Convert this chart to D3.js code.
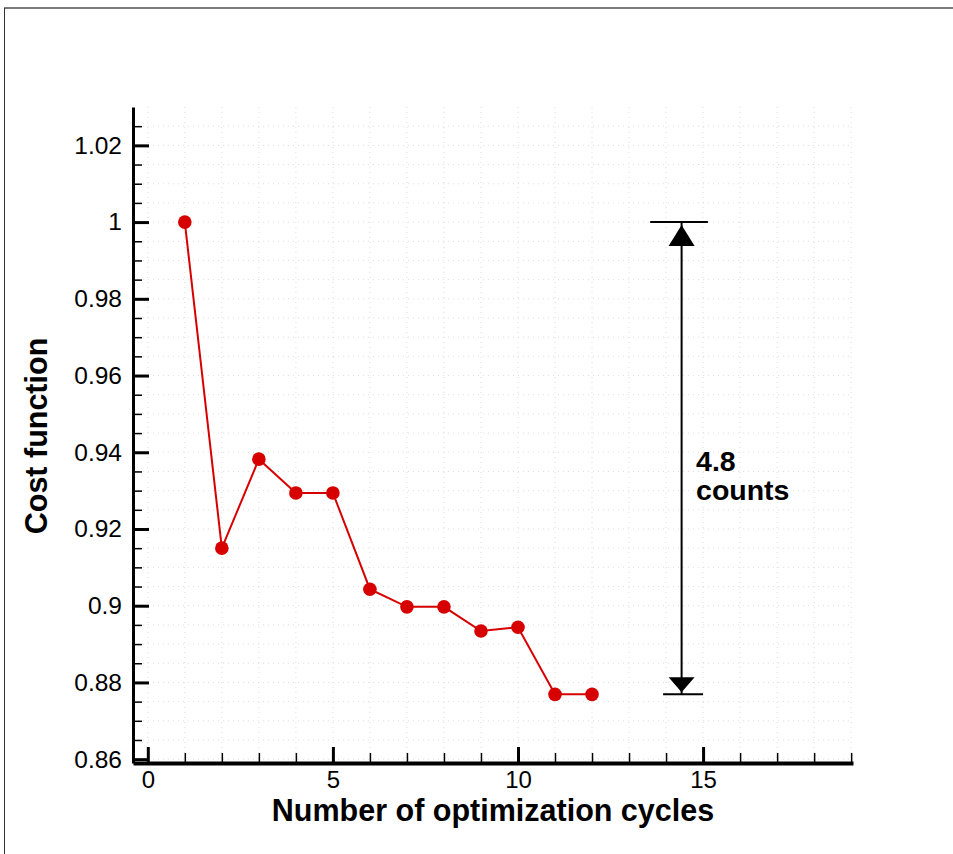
<!DOCTYPE html>
<html>
<head>
<meta charset="utf-8">
<script src="https://cdn.jsdelivr.net/npm/d3@7"></script>
<style>
  body { margin: 0; background: #fff; }
  svg { display: block; font-family: "Liberation Sans", Arial, sans-serif; }
  .grid line { stroke: #dedede; stroke-width: 1; stroke-dasharray: 1,4; }
</style>
</head>
<body>
<svg width="953" height="854"></svg>
<script>
// data
var cycles = [1, 2, 3, 4, 5, 6, 7, 8, 9, 10, 11, 12];
var cost = [1.0, 0.915, 0.9382, 0.9294, 0.9294, 0.9043, 0.8997, 0.8997, 0.8934, 0.8944, 0.8769, 0.8769];
var xMajor = [0, 5, 10, 15];
var yMajor = [0.86, 0.88, 0.9, 0.92, 0.94, 0.96, 0.98, 1, 1.02];
var yLabels = ["0.86", "0.88", "0.9", "0.92", "0.94", "0.96", "0.98", "1", "1.02"];
var xMinor = d3.range(0, 20, 1);
var yMinor = d3.range(0, 34).map(function(i) { return +(0.86 + i * 0.005).toFixed(3); });

// annotation
var arrowX = 14.42;
var arrowTop = cost[0], arrowBottom = cost[cost.length - 1];
var noteLines = ["4.8", "counts"];

var margin = { top: 107, left: 133, right: 100, bottom: 91 },
    width = 953 - margin.left - margin.right,
    height = 854 - margin.top - margin.bottom;

var svg = d3.select("svg");

// frame
svg.append("line").attr("x1", 4).attr("x2", 953).attr("y1", 8).attr("y2", 8)
  .attr("stroke", "#7a7a7a").attr("stroke-width", 2);
svg.append("line").attr("x1", 4.5).attr("x2", 4.5).attr("y1", 8).attr("y2", 854)
  .attr("stroke", "#333").attr("stroke-width", 1);

var g = svg.append("g")
  .attr("transform", "translate(" + margin.left + "," + margin.top + ")");

var x = d3.scaleLinear().domain([-0.4, 19.05]).range([0, width]);
var y = d3.scaleLinear().domain([0.859, 1.03]).range([height, 0]);

// dotted grid
g.append("g").attr("class", "grid")
  .selectAll("line").data(xMinor).enter().append("line")
  .attr("x1", function(d) { return x(d); }).attr("x2", function(d) { return x(d); })
  .attr("y1", 0).attr("y2", height);
g.append("g").attr("class", "grid")
  .selectAll("line").data(yMinor).enter().append("line")
  .attr("y1", function(d) { return y(d); }).attr("y2", function(d) { return y(d); })
  .attr("x1", 0).attr("x2", width);

// minor ticks
g.append("g")
  .attr("transform", "translate(0," + height + ")")
  .call(d3.axisBottom(x).tickValues(xMinor.filter(function(d) { return d % 5 !== 0; }))
    .tickSize(-10).tickFormat(""))
  .call(function(a) {
    a.select(".domain").remove();
    a.selectAll("line").attr("stroke", "#000").attr("stroke-width", 1.5);
  });
g.append("g")
  .call(d3.axisLeft(y).tickValues(yMinor.filter(function(d) { return yMajor.indexOf(d) < 0; }))
    .tickSize(-9).tickFormat(""))
  .call(function(a) {
    a.select(".domain").remove();
    a.selectAll("line").attr("stroke", "#000").attr("stroke-width", 1.5);
  });

// major axes
g.append("g")
  .attr("transform", "translate(0," + height + ")")
  .call(d3.axisBottom(x).tickValues(xMajor).tickSizeInner(-16).tickSizeOuter(0)
    .tickPadding(8).tickFormat(d3.format("d")))
  .call(function(a) {
    a.select(".domain").attr("stroke", "#000").attr("stroke-width", 4);
    a.selectAll("line").attr("stroke", "#000").attr("stroke-width", 3);
    a.selectAll("text").attr("font-size", 24).attr("fill", "#000")
      .attr("font-family", "Liberation Sans, Arial, sans-serif");
  });
g.append("g")
  .call(d3.axisLeft(y).tickValues(yMajor).tickSizeInner(-16).tickSizeOuter(0)
    .tickPadding(11).tickFormat(function(d, i) { return yLabels[i]; }))
  .call(function(a) {
    a.select(".domain").attr("stroke", "#000").attr("stroke-width", 3);
    a.selectAll("line").attr("stroke", "#000").attr("stroke-width", 3);
    a.selectAll("text").attr("font-size", 24.5).attr("fill", "#000")
      .attr("font-family", "Liberation Sans, Arial, sans-serif");
  });

// axis titles
svg.append("text")
  .attr("x", 493).attr("y", 821)
  .attr("text-anchor", "middle")
  .attr("font-size", 30.5).attr("font-weight", "bold")
  .text("Number of optimization cycles");
svg.append("text")
  .attr("transform", "translate(47,436) rotate(-90)")
  .attr("text-anchor", "middle")
  .attr("font-size", 30.5).attr("font-weight", "bold")
  .text("Cost function");

// series
var line = d3.line()
  .x(function(d, i) { return x(cycles[i]); })
  .y(function(d) { return y(d); });
g.append("path").datum(cost)
  .attr("d", line)
  .attr("fill", "none")
  .attr("stroke", "#d70000")
  .attr("stroke-width", 2);
g.selectAll("circle").data(cost).enter().append("circle")
  .attr("cx", function(d, i) { return x(cycles[i]); })
  .attr("cy", function(d) { return y(d); })
  .attr("r", 6.8)
  .attr("fill", "#d70000");

// dimension arrow
var ax = x(arrowX), yt = y(arrowTop), yb = y(arrowBottom);
var ann = g.append("g").attr("stroke", "#000").attr("stroke-width", 2);
ann.append("line").attr("x1", ax).attr("x2", ax).attr("y1", yt).attr("y2", yb);
ann.append("line").attr("x1", x(13.57)).attr("x2", x(15.13)).attr("y1", yt).attr("y2", yt);
ann.append("line").attr("x1", x(13.92)).attr("x2", x(15.0)).attr("y1", yb).attr("y2", yb);
g.append("path")
  .attr("d", "M" + ax + "," + (yt + 3) + "L" + (ax - 13) + "," + (yt + 24) + "L" + (ax + 13) + "," + (yt + 24) + "Z")
  .attr("fill", "#000");
g.append("path")
  .attr("d", "M" + ax + "," + (yb - 2) + "L" + (ax - 13) + "," + (yb - 17) + "L" + (ax + 13) + "," + (yb - 17) + "Z")
  .attr("fill", "#000");

var note = g.append("text")
  .attr("x", x(14.81)).attr("y", y(0.9351))
  .attr("font-size", 28.5).attr("font-weight", "bold");
note.selectAll("tspan").data(noteLines).enter().append("tspan")
  .attr("x", x(14.81))
  .attr("dy", function(d, i) { return i === 0 ? 0 : 29; })
  .text(function(d) { return d; });
</script>
</body>
</html>
